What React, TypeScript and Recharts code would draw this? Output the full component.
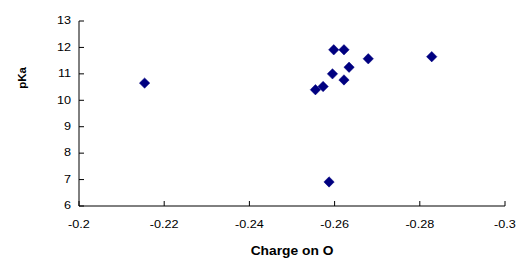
import React from "react";
import { ScatterChart, Scatter, XAxis, YAxis } from "recharts";

const chargeOnO = [-0.2154, -0.2598, -0.2622, -0.2679, -0.2828, -0.2634, -0.2595, -0.2622, -0.2573, -0.2555, -0.2587];
const pKaValues = [10.65, 11.91, 11.91, 11.57, 11.65, 11.25, 11.0, 10.77, 10.52, 10.4, 6.91];
const xTicks = [-0.2, -0.22, -0.24, -0.26, -0.28, -0.3];
const yTicks = [6, 7, 8, 9, 10, 11, 12, 13];
const xTitle = "Charge on O";
const yTitle = "pKa";

const data = chargeOnO.map((x, i) => ({ x, y: pKaValues[i] }));

const FONT = "'Liberation Sans', Arial, sans-serif";
const STRETCH = 1.15;

const XTick = (props: any) => {
  const { x, y, payload } = props;
  return (
    <g transform={`translate(${x},${y}) scale(${STRETCH},1)`}>
      <text x={0} y={0} dy="0.71em" textAnchor="middle" fontFamily={FONT} fontSize={11} fill="#000">
        {String(payload.value)}
      </text>
    </g>
  );
};

const YTick = (props: any) => {
  const { x, y, payload } = props;
  return (
    <g transform={`translate(${x},${y}) scale(${STRETCH},1)`}>
      <text x={0} y={0} dy="0.3em" textAnchor="end" fontFamily={FONT} fontSize={11} fill="#000">
        {String(payload.value)}
      </text>
    </g>
  );
};

const Diamond = (props: any) => {
  const { cx, cy } = props;
  if (cx == null || cy == null) return null;
  const r = 5.2;
  return (
    <polygon
      points={`${cx},${cy - r} ${cx + r},${cy} ${cx},${cy + r} ${cx - r},${cy}`}
      fill="#000080"
      stroke="#000080"
      strokeWidth={0.5}
    />
  );
};

const XTitle = (props: any) => {
  const vb = props.viewBox || {};
  const cx = vb.x + vb.width / 2;
  return (
    <g transform={`translate(${cx},${vb.y + 48.5}) scale(${STRETCH},1)`}>
      <text x={0} y={0} textAnchor="middle" fontFamily={FONT} fontSize={12} fontWeight="bold" fill="#000">
        {xTitle}
      </text>
    </g>
  );
};

const YTitle = (props: any) => {
  const vb = props.viewBox || {};
  const cx = 21.7;
  const cy = vb.y + 57;
  return (
    <text
      x={cx}
      y={cy}
      dy="0.35em"
      textAnchor="middle"
      transform={`rotate(-90, ${cx}, ${cy})`}
      fontFamily={FONT}
      fontSize={11.5}
      fontWeight="bold"
      fill="#000"
    >
      {yTitle}
    </text>
  );
};

export default function App() {
  return (
    <div style={{ width: 517, height: 259, background: "#fff", overflow: "hidden" }}>
      <style>{`html,body{margin:0;padding:0;overflow:hidden;} #root{width:517px;height:259px;}`}</style>
      <ScatterChart width={517} height={259} margin={{ top: 21, right: 12, bottom: 13, left: 19 }}>
        <XAxis
          type="number"
          dataKey="x"
          domain={[-0.3, -0.2]}
          reversed
          ticks={xTicks}
          interval={0}
          height={40}
          tickSize={-5}
          tickMargin={19}
          tick={<XTick />}
          axisLine={{ stroke: "#000", strokeWidth: 1 }}
          tickLine={{ stroke: "#000", strokeWidth: 1 }}
          label={<XTitle />}
          allowDataOverflow
        />
        <YAxis
          type="number"
          dataKey="y"
          domain={[6, 13]}
          ticks={yTicks}
          interval={0}
          width={60}
          tickSize={-5}
          tickMargin={13}
          tick={<YTick />}
          axisLine={{ stroke: "#000", strokeWidth: 1 }}
          tickLine={{ stroke: "#000", strokeWidth: 1 }}
          label={<YTitle />}
          allowDataOverflow
        />
        <Scatter data={data} shape={<Diamond />} isAnimationActive={false} />
      </ScatterChart>
    </div>
  );
}
